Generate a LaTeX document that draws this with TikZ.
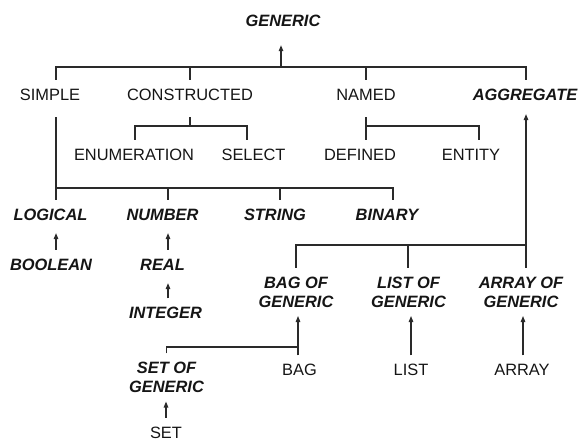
\documentclass[tikz,border=0pt]{standalone}
\usepackage{fontspec}
\newfontfamily\lbfont{Liberation Sans}
\usetikzlibrary{arrows.meta}
\definecolor{ink}{HTML}{151515}
\definecolor{wire}{HTML}{2A2A2A}
\begin{document}
\begin{tikzpicture}[x=1pt,y=-1pt,
  lbl/.style={font=\lbfont\fontsize{16.4}{19}\selectfont, text=ink,
    inner xsep=0pt, inner ysep=8.5pt, text height=11.8pt, text depth=0pt},
  kw/.style={lbl, font=\lbfont\fontsize{16.4}{19}\selectfont\bfseries\itshape},
  kwtwo/.style={font=\lbfont\fontsize{16.4}{19}\selectfont\bfseries\itshape,
    text=ink, align=center, inner xsep=0pt, inner ysep=8.5pt},
  link/.style={draw=wire, line width=1.2pt},
  arr/.style={link, -{Triangle[length=6pt,width=4.5pt]}}]
\useasboundingbox (0,0) rectangle (581,441);

% labels
\node[kw]  (generic)     at (283,21)    {GENERIC};
\node[lbl] (simple)      at (50,94.5)   {SIMPLE};
\node[lbl] (constructed) at (190,94.5)  {CONSTRUCTED};
\node[lbl] (named)       at (366,94.5)  {NAMED};
\node[kw]  (aggregate)   at (525,94.5)  {AGGREGATE};
\node[lbl] (enumeration) at (134,154.5) {ENUMERATION};
\node[lbl] (select)      at (253.5,154.5) {SELECT};
\node[lbl] (defined)     at (360,154.5) {DEFINED};
\node[lbl] (entity)      at (471,154.5) {ENTITY};
\node[kw]  (logical)     at (50.5,214.5) {LOGICAL};
\node[kw]  (number)      at (162.5,214.5) {NUMBER};
\node[kw]  (string)      at (275,214.5) {STRING};
\node[kw]  (binary)      at (387,214.5) {BINARY};
\node[kw]  (boolean)     at (51,264.5)  {BOOLEAN};
\node[kw]  (real)        at (162.5,264.5) {REAL};
\node[kw]  (integer)     at (165.5,313) {INTEGER};
\node[kwtwo] (bagof)     at (296,292)   {BAG OF\\GENERIC};
\node[kwtwo] (listof)    at (408.5,292) {LIST OF\\GENERIC};
\node[kwtwo] (arrayof)   at (521,292)   {ARRAY OF\\GENERIC};
\node[lbl] (bag)         at (299.5,370) {BAG};
\node[lbl] (list)        at (411,370)   {LIST};
\node[lbl] (array)       at (522,370)   {ARRAY};
\node[kwtwo] (setof)     at (166.5,377.5) {SET OF\\GENERIC};
\node[lbl] (set)         at (166,432.5) {SET};

% bus junctions
\coordinate (gbus) at (281,67);
\coordinate (cbus) at (190,126);
\coordinate (nbus) at (366,126);
\coordinate (sbus) at (56,188);
\coordinate (abus) at (526,245);
\coordinate (bbus) at (298,347);

% GENERIC and its four kinds
\draw[arr, shorten >=9.6pt] (gbus) -- (gbus |- generic.south);
\draw[link] ([xshift=6pt]simple.north) |- (gbus) -| ([xshift=1pt]aggregate.north);
\draw[link] (constructed.north) -- (constructed.north |- gbus);
\draw[link] (named.north) -- (named.north |- gbus);

% constructed types
\draw[link, shorten <=8pt] (constructed.south) -- (cbus);
\draw[link] ([xshift=1pt]enumeration.north) |- (cbus) -| ([xshift=-6.5pt]select.north);

% named types
\draw[link, shorten <=8pt] (named.south) -- ([xshift=6pt]defined.north);
\draw[link] (nbus) -| ([xshift=8pt]entity.north);

% simple types
\draw[link, shorten <=8pt] ([xshift=6pt]simple.south) -- ([xshift=5.5pt]logical.north);
\draw[link] (sbus) -| ([xshift=6pt]binary.north);
\draw[link] ([xshift=5.5pt]number.north) -- ([xshift=5.5pt]number.north |- sbus);
\draw[link] ([xshift=5pt]string.north) -- ([xshift=5pt]string.north |- sbus);
\draw[arr, shorten >=4pt] ([xshift=5pt]boolean.north) -- ([xshift=5.5pt]logical.south);
\draw[arr, shorten >=4pt] ([xshift=5.5pt]real.north) -- ([xshift=5.5pt]number.south);
\draw[arr, shorten >=4pt] ([xshift=2.5pt]integer.north) -- ([xshift=5.5pt]real.south);

% aggregate types
\draw[arr, shorten >=5pt] ([xshift=5pt]arrayof.north) -- ([xshift=1pt]aggregate.south);
\draw[link] (bagof.north) |- (abus);
\draw[link] ([xshift=-0.5pt]listof.north) -- ([xshift=-0.5pt]listof.north |- abus);
\draw[arr] ([xshift=-1.5pt]bag.north) -- ([xshift=2pt]bagof.south);
\draw[link] (setof.north) |- (bbus);
\draw[arr] (set.north) -- ([xshift=-0.5pt]setof.south);
\draw[arr] (list.north) -- (list.north |- listof.south);
\draw[arr] ([xshift=1pt]array.north) -- ([xshift=1pt]array.north |- arrayof.south);
\end{tikzpicture}
\end{document}
